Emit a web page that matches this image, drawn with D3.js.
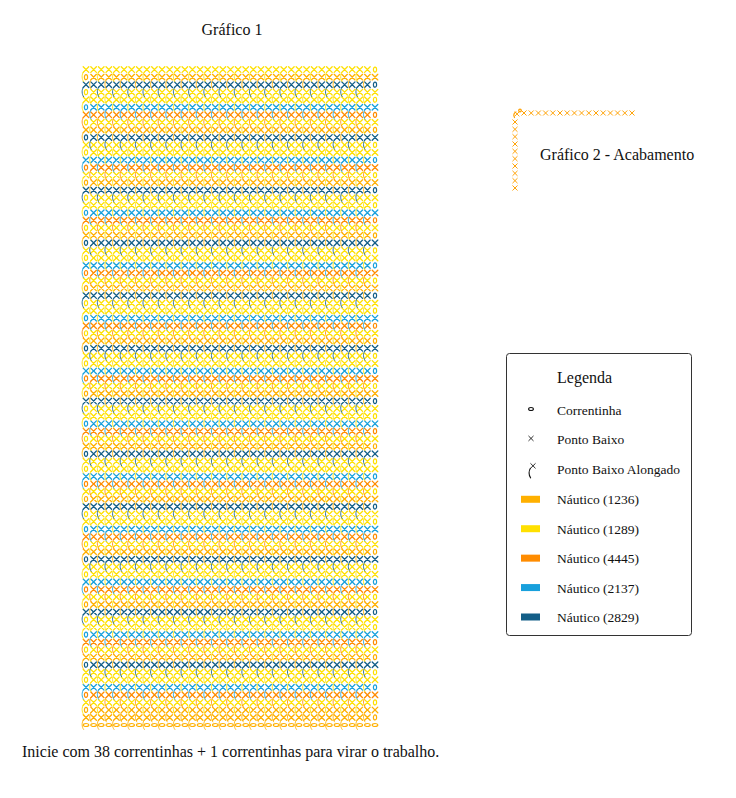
<!DOCTYPE html>
<html><head><meta charset="utf-8">
<script src="https://cdn.jsdelivr.net/npm/d3@7/dist/d3.min.js"></script>
<style>body{margin:0;background:#fff}svg{display:block}</style>
</head><body>
<svg id="c" width="736" height="798" font-family="'Liberation Serif', 'Times New Roman', Times, 'DejaVu Serif', serif"></svg>
<script>
// Yarn colours (legend)
const yarnCodes = [1236, 1289, 4445, 2137, 2829];
const yarnColors = ["#FFB000", "#FFE000", "#FF8C00", "#18A0DC", "#135E87"];
const yarnLabels = ["Náutico (1236)", "Náutico (1289)", "Náutico (4445)", "Náutico (2137)", "Náutico (2829)"];
// stitches per row (38 + 1 turning chain)
const stitchesPerRow = 38;
const foundationYarn = 1236;
// yarn of each row, bottom (row 1) to top (row 87)
const rowYarn = [
  1236,
  1236, 1289, 4445, 2137, 1289, 1289, 2829,
  1236, 1289, 4445, 2137, 1289, 1289, 2829,
  1236, 1289, 4445, 2137, 1289, 1289, 2829,
  1236, 1289, 4445, 2137, 1289, 1289, 2829,
  1236, 1289, 4445, 2137, 1289, 1289, 2829,
  1236, 1289, 4445, 2137, 1289, 1289, 2829,
  1236, 1289, 4445, 2137, 1289, 1289, 2829,
  1236, 1289, 4445, 2137, 1289, 1289, 2829,
  1236, 1289, 4445, 2137, 1289, 1289, 2829,
  1236, 1289, 4445, 2137, 1289, 1289, 2829,
  1236, 1289, 4445, 2137, 1289, 1289, 2829,
  1236, 1289, 4445, 2137, 1289, 1289, 2829,
  1236, 1289
];
// Gráfico 2 (acabamento): stitches along top and side
const finishTopCount = 16;
const finishSideCount = 10;
const finishColor = "#FFA000";
// legend symbols
const legendSymbols = ["Correntinha", "Ponto Baixo", "Ponto Baixo Alongado"];
const titles = {g1: "Gráfico 1", g2: "Gráfico 2 - Acabamento", legend: "Legenda",
  note: "Inicie com 38 correntinhas + 1 correntinhas para virar o trabalho."};

const color = d3.scaleOrdinal().domain(yarnCodes).range(yarnColors);
const svg = d3.select("#c");
const nRows = rowYarn.length;
const x = d3.scaleLinear().domain([0, stitchesPerRow]).range([86, 375]);
const y = d3.scaleLinear().domain([0, nRows]).range([725, 69.6]);

const crossPath = "M-2.8,-2.8L2.8,2.8M2.8,-2.8L-2.8,2.8";
const spikePath = "M-2.6,2.4C-4.4,5 -4.4,9.5 -2.4,12";

// build stitch list
const stitches = [];
for (let c = 0; c <= stitchesPerRow; c++) stitches.push({row: 0, col: c, type: "chainH", yarn: foundationYarn});
rowYarn.forEach((yarn, i) => {
  const r = i + 1;
  const chainCol = (r % 2 === 0) ? 0 : stitchesPerRow;
  for (let c = 0; c <= stitchesPerRow; c++) {
    let type;
    if (c === chainCol) type = "chain";
    else type = ((c + r) % 2 === 1) ? "spike" : "sc";
    stitches.push({row: r, col: c, type, yarn});
  }
});

const g = svg.append("g").attr("fill", "none").attr("stroke-linecap", "round");
const sel = g.selectAll("g.st").data(stitches).join("g")
  .attr("transform", d => `translate(${x(d.col)},${y(d.row)})`)
  .attr("stroke", d => color(d.yarn));
sel.filter(d => d.type === "chainH").append("ellipse").attr("rx", 2.8).attr("ry", 1.5).attr("stroke-width", 1.2);
sel.filter(d => d.type === "chain").append("ellipse").attr("rx", 1.6).attr("ry", 2.5).attr("stroke-width", 1.2);
sel.filter(d => d.type === "sc" || d.type === "spike").append("path").attr("d", crossPath).attr("stroke-width", 1.3);
sel.filter(d => d.type === "spike").append("path").attr("d", spikePath).attr("stroke-width", 0.85);

// titles
svg.append("text").attr("x", 232).attr("y", 35).attr("text-anchor", "middle").attr("font-size", 16).attr("fill", "#111").text(titles.g1);
svg.append("text").attr("x", 22).attr("y", 757).attr("font-size", 16).attr("fill", "#111").text(titles.note);

// Gráfico 2
const fx = d3.scaleLinear().domain([0, finishTopCount - 1]).range([524, 632]);
const fy = d3.scaleLinear().domain([0, finishSideCount - 1]).range([122, 188]);
const g2 = svg.append("g").attr("fill", "none").attr("stroke", finishColor).attr("stroke-width", 1.2).attr("stroke-linecap", "round");
g2.selectAll("path.t").data(d3.range(finishTopCount)).join("path")
  .attr("transform", d => `translate(${fx(d)},113)scale(0.8)`).attr("d", crossPath);
g2.selectAll("path.s").data(d3.range(finishSideCount)).join("path")
  .attr("transform", d => `translate(515,${fy(d)})scale(0.8)`).attr("d", crossPath);
g2.append("path").attr("transform", "translate(517,114)scale(0.75)").attr("d", crossPath);
g2.append("path").attr("d", "M514.5,117.5C513,115 514,113 516,112");
g2.append("circle").attr("cx", 520).attr("cy", 110.5).attr("r", 1.3);
svg.append("text").attr("x", 540).attr("y", 160).attr("font-size", 16).attr("fill", "#111").text(titles.g2);

// legend
svg.append("rect").attr("x", 506.5).attr("y", 353.5).attr("width", 185).attr("height", 282).attr("rx", 3)
  .attr("fill", "#fff").attr("stroke", "#333").attr("stroke-width", 1);
svg.append("text").attr("x", 557).attr("y", 383).attr("font-size", 16).attr("fill", "#111").text(titles.legend);
const ly = d3.scaleLinear().domain([0, 7]).range([411, 617]);
const lg = svg.append("g").attr("fill", "none").attr("stroke", "#111").attr("stroke-width", 1.1).attr("stroke-linecap", "round");
lg.append("ellipse").attr("cx", 531).attr("cy", ly(0) - 2).attr("rx", 2.4).attr("ry", 1.5);
lg.append("path").attr("transform", `translate(531,${ly(1) - 2})scale(0.8)`).attr("d", crossPath);
lg.append("path").attr("transform", `translate(533,${ly(2) - 4})scale(0.8)`).attr("d", crossPath);
lg.append("path").attr("transform", `translate(533,${ly(2) - 4})`).attr("d", spikePath);
legendSymbols.forEach((t, i) => {
  svg.append("text").attr("x", 557).attr("y", ly(i) + 4).attr("font-size", 13.5).attr("fill", "#111").text(t);
});
yarnCodes.forEach((code, i) => {
  svg.append("rect").attr("x", 521).attr("y", ly(i + 3) - 3.5).attr("width", 19).attr("height", 7).attr("fill", color(code));
  svg.append("text").attr("x", 557).attr("y", ly(i + 3) + 5).attr("font-size", 13.5).attr("fill", "#111").text(yarnLabels[i]);
});
</script>
</body></html>
